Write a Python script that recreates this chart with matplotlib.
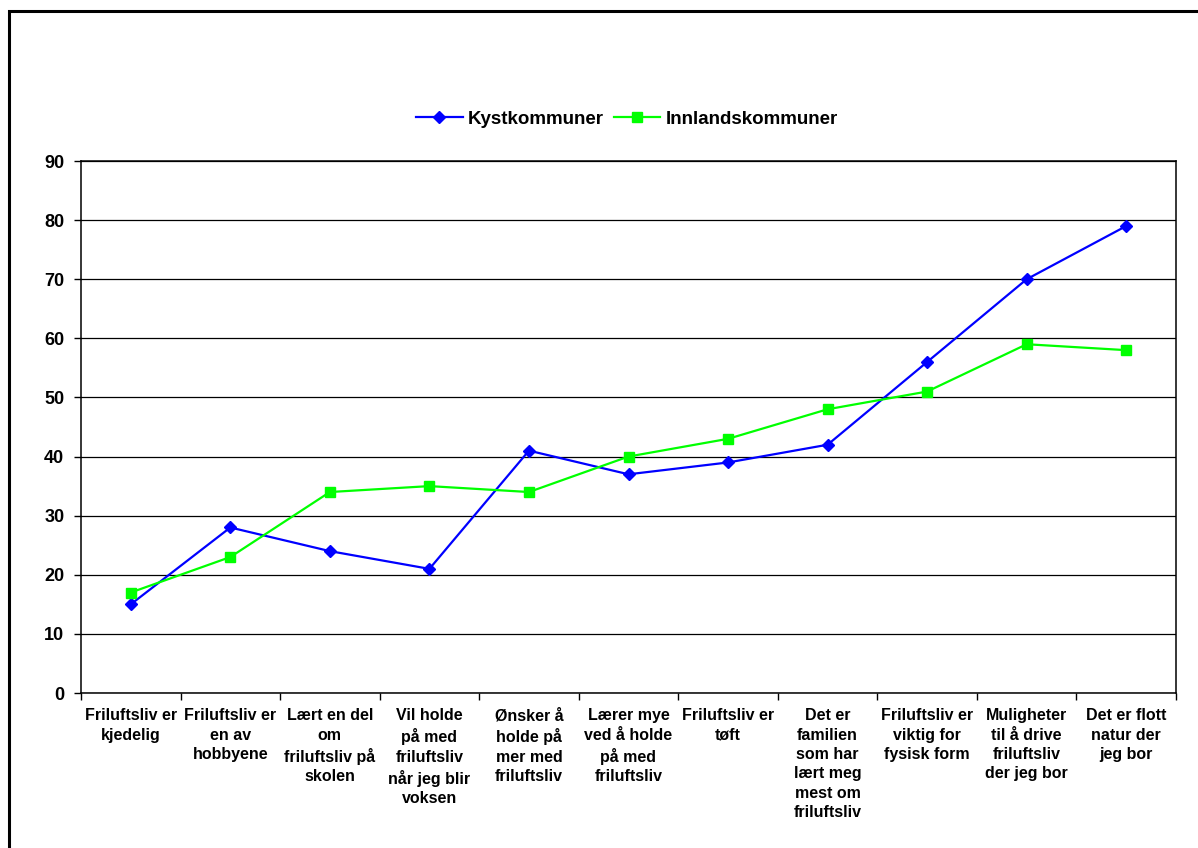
import matplotlib
matplotlib.use("Agg")
import matplotlib.pyplot as plt
from matplotlib.patches import Rectangle

categories = [
    "Friluftsliv er\nkjedelig",
    "Friluftsliv er\nen av\nhobbyene",
    "Lært en del\nom\nfriluftsliv på\nskolen",
    "Vil holde\npå med\nfriluftsliv\nnår jeg blir\nvoksen",
    "Ønsker å\nholde på\nmer med\nfriluftsliv",
    "Lærer mye\nved å holde\npå med\nfriluftsliv",
    "Friluftsliv er\ntøft",
    "Det er\nfamilien\nsom har\nlært meg\nmest om\nfriluftsliv",
    "Friluftsliv er\nviktig for\nfysisk form",
    "Muligheter\ntil å drive\nfriluftsliv\nder jeg bor",
    "Det er flott\nnatur der\njeg bor",
]
kyst = [15, 28, 24, 21, 41, 37, 39, 42, 56, 70, 79]
innland = [17, 23, 34, 35, 34, 40, 43, 48, 51, 59, 58]
series_names = ["Kystkommuner", "Innlandskommuner"]
yticks = list(range(0, 91, 10))

plt.rcParams['font.family'] = ['Liberation Sans', 'DejaVu Sans']
plt.rcParams['font.weight'] = 'bold'

W, H = 1198, 848
fig = plt.figure(figsize=(W / 100, H / 100), dpi=100)
ax = fig.add_axes([81 / W, 1 - 693 / H, (1176 - 81) / W, (693 - 161) / H])

x = list(range(len(categories)))
ax.plot(x, kyst, color='#0000FF', marker='D', markersize=6.5, linewidth=1.6,
        label=series_names[0], zorder=3)
ax.plot(x, innland, color='#00FF00', marker='s', markersize=7.5, linewidth=1.6,
        label=series_names[1], zorder=4)

ax.set_xlim(-0.5, len(categories) - 0.5)
ax.set_ylim(0, 90)
ax.set_yticks(yticks)
ax.set_yticklabels([str(v) for v in yticks], fontsize=13, fontweight='bold')
ax.yaxis.grid(True, color='black', linewidth=0.9)
ax.set_axisbelow(True)

ax.set_xticks(x)
ax.set_xticklabels(categories, fontsize=11.5, fontweight='bold', linespacing=1.36, va='top')
ax.tick_params(axis='x', which='major', length=0, pad=11)
ax.set_xticks([i - 0.5 for i in range(len(categories) + 1)], minor=True)
ax.tick_params(axis='x', which='minor', length=5, width=1, direction='out')
ax.tick_params(axis='y', length=5, width=1, direction='out', pad=7)

for s in ax.spines.values():
    s.set_linewidth(1.1)
    s.set_color('black')

leg = fig.legend(loc='center', bbox_to_anchor=(627 / W, 1 - 119 / H), ncol=2,
                 frameon=False, prop={'size': 13.5, 'weight': 'bold'},
                 handlelength=2.5, columnspacing=0.5, handletextpad=0.3)

fig.patches.append(Rectangle((9 / W, -0.1), 1.2, 1 - 11 / H + 0.1,
                             transform=fig.transFigure, fill=False,
                             edgecolor='black', linewidth=2.2, zorder=10))

fig.savefig("out.png", dpi=100, facecolor='white')
